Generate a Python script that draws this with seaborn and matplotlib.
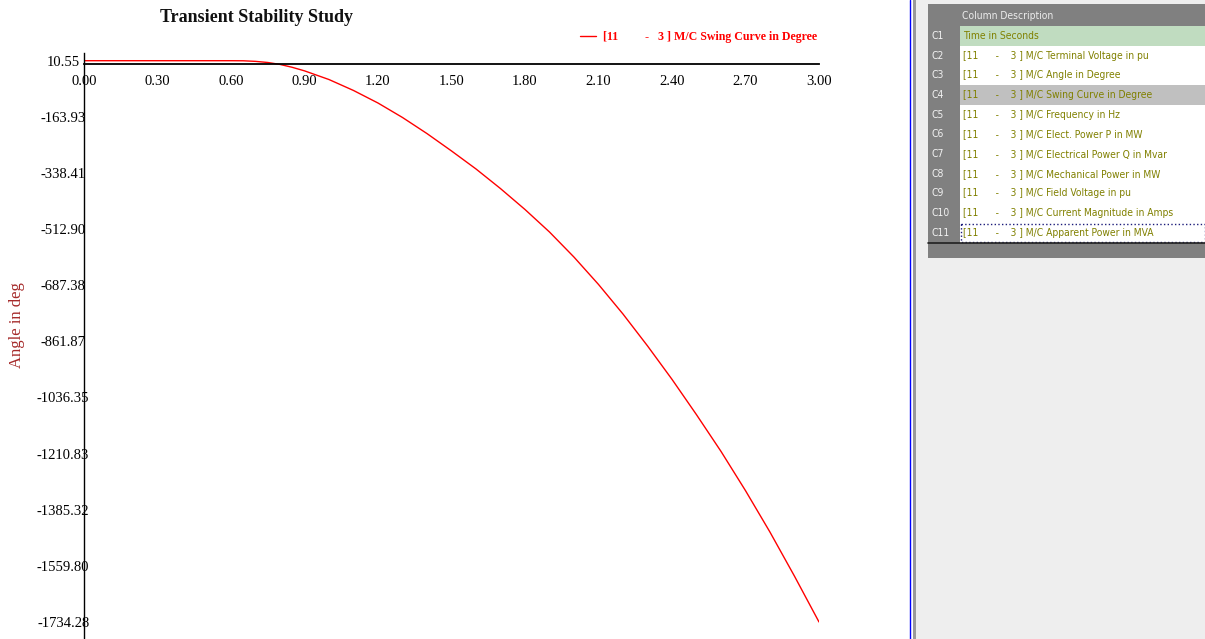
import matplotlib
matplotlib.use('Agg')
import matplotlib.pyplot as plt
from matplotlib import font_manager
from matplotlib.patches import Rectangle
from matplotlib.lines import Line2D
import seaborn as sns
import pandas as pd

# Swing curve
time_s = [0.00, 0.30, 0.60, 0.65, 0.70, 0.75, 0.80, 0.85, 0.90, 1.00, 1.10, 1.20,
          1.30, 1.40, 1.50, 1.60, 1.70, 1.80, 1.90, 2.00, 2.10, 2.20, 2.30, 2.40,
          2.50, 2.60, 2.70, 2.80, 2.90, 3.00]
swing_deg = [10.55, 10.55, 10.55, 10.3, 8.5, 5.0, -1.0, -10.0, -21.0, -48.0, -82.0, -121.0,
             -166.0, -216.0, -270.0, -326.0, -387.0, -452.0, -522.0, -600.0, -685.0, -777.0,
             -876.0, -980.0, -1090.0, -1204.0, -1326.0, -1455.0, -1592.0, -1734.28]

xtick_labels = ['0.00', '0.30', '0.60', '0.90', '1.20', '1.50', '1.80', '2.10', '2.40', '2.70', '3.00']
ytick_labels = ['10.55', '-163.93', '-338.41', '-512.90', '-687.38', '-861.87',
                '-1036.35', '-1210.83', '-1385.32', '-1559.80', '-1734.28']

legend_label = '[11         -   3 ] M/C Swing Curve in Degree'

row_ids = ['C1', 'C2', 'C3', 'C4', 'C5', 'C6', 'C7', 'C8', 'C9', 'C10', 'C11']
row_desc = ['Time in Seconds',
            '[11      -    3 ] M/C Terminal Voltage in pu',
            '[11      -    3 ] M/C Angle in Degree',
            '[11      -    3 ] M/C Swing Curve in Degree',
            '[11      -    3 ] M/C Frequency in Hz',
            '[11      -    3 ] M/C Elect. Power P in MW',
            '[11      -    3 ] M/C Electrical Power Q in Mvar',
            '[11      -    3 ] M/C Mechanical Power in MW',
            '[11      -    3 ] M/C Field Voltage in pu',
            '[11      -    3 ] M/C Current Magnitude in Amps',
            '[11      -    3 ] M/C Apparent Power in MVA']

df = pd.DataFrame({'t': time_s, 'delta': swing_deg})

sns.set_theme(style='white')
plt.rcParams['font.family'] = ['Liberation Serif', 'DejaVu Serif']

# narrow sans for the side table
names = {f.name for f in font_manager.fontManager.ttflist}
if 'Liberation Sans Narrow' in names:
    panel_font = dict(family='Liberation Sans Narrow', size=8.6)
else:
    panel_font = dict(family='DejaVu Sans', stretch='condensed', size=7.4)

W, H = 1205, 639
fig = plt.figure(figsize=(W / 100, H / 100), dpi=100)
fig.patch.set_facecolor('white')

# pixel-space layer for the window decoration on the right
bg = fig.add_axes([0, 0, 1, 1])
bg.set_xlim(0, W)
bg.set_ylim(H, 0)
bg.axis('off')

bg.plot([909.5, 909.5], [0, H], color='#0000ff', lw=1.0)
bg.add_patch(Rectangle((913, 0), 3, H, color='#9a9a9a', lw=0))
bg.add_patch(Rectangle((916, 0), W - 916, H, color='#eeeeee', lw=0))
bg.add_patch(Rectangle((928, 4), W - 928, 254, color='#808080', lw=0))
bg.text(962, 16, 'Column Description', color='#ececec', va='center', **panel_font)

row_h = 19.7
n_rows = len(row_ids)
bg.add_patch(Rectangle((960, 26), W - 960, n_rows * row_h, color='white', lw=0))
for i, (cid, desc) in enumerate(zip(row_ids, row_desc)):
    y0 = 26 + i * row_h
    if i == 0:
        bg.add_patch(Rectangle((960, y0), W - 960, row_h, color='#c0dcc0', lw=0))
    elif i == 3:
        bg.add_patch(Rectangle((960, y0), W - 960, row_h, color='#c0c0c0', lw=0))
    bg.text(932, y0 + row_h / 2, cid, color='#f2f2f2', va='center', **panel_font)
    bg.text(963, y0 + row_h / 2, desc, color='#808000', va='center', **panel_font)

last_y = 26 + (n_rows - 1) * row_h
bg.add_patch(Rectangle((960.5, last_y + 0.5), W - 961, row_h - 1, fill=False,
                       edgecolor='#1c1c7a', lw=1, linestyle=':'))
bg.plot([928, W], [last_y + row_h, last_y + row_h], color='#202020', lw=1.2)

# main chart
ax = fig.add_axes([84 / W, 0, 735 / W, 586 / H])
ax.set_facecolor('none')
sns.lineplot(data=df, x='t', y='delta', color='red', lw=1.0, ax=ax)

ax.set_xlim(0, 3.0)
ax.set_ylim(-1787.2, 34.5)

for s in ['top', 'right']:
    ax.spines[s].set_visible(False)
ax.spines['left'].set_color('black')
ax.spines['left'].set_linewidth(1.0)
ax.spines['bottom'].set_position(('data', 0))
ax.spines['bottom'].set_color('black')
ax.spines['bottom'].set_linewidth(1.3)

ax.set_xticks([float(s) for s in xtick_labels])
ax.set_xticklabels(xtick_labels)
ax.set_yticks([float(s) for s in ytick_labels])
ax.set_yticklabels(ytick_labels)
ax.tick_params(axis='x', direction='inout', length=12, width=1, color='#8c8c8c',
               pad=2, labelsize=10.5, labelcolor='black')
ax.tick_params(axis='y', direction='inout', length=10, width=1, color='#8c8c8c',
               pad=10, labelsize=10.5, labelcolor='black')
plt.setp(ax.get_yticklabels(), ha='center')

ax.set_xlabel('')
ax.set_ylabel('Angle in deg', color='#a52a2a', fontsize=12)
ax.yaxis.set_label_coords((25 - 84) / 735, 1 - (325 - 53) / 586)

fig.text(257 / W, 1 - 17 / H, 'Transient Stability Study', ha='center', va='center',
         fontsize=13, fontweight='bold', color='#111111')

handles = [Line2D([], [], color='red', lw=1.0)]
leg = fig.legend(handles, [legend_label], loc='center left',
                 bbox_to_anchor=(580 / W, 1 - 37 / H), frameon=False,
                 borderpad=0, borderaxespad=0, handlelength=1.3, handletextpad=0.6,
                 prop=dict(family='Liberation Serif', weight='bold', size=8.6))
for txt in leg.get_texts():
    txt.set_color('red')

fig.savefig('out.png', dpi=100)
